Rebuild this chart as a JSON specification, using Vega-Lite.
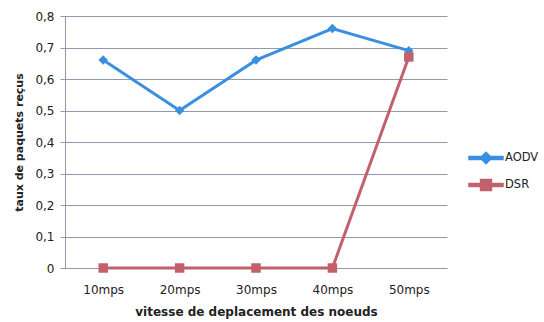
{
  "$schema": "https://vega.github.io/schema/vega-lite/v6.json",
  "autosize": "none",
  "width": 382,
  "height": 252,
  "padding": {"left": 65, "top": 16, "right": 97, "bottom": 54},
  "background": "white",
  "data": {
    "values": [
      {"speed": "10mps", "protocol": "AODV", "taux": 0.66},
      {"speed": "20mps", "protocol": "AODV", "taux": 0.5},
      {"speed": "30mps", "protocol": "AODV", "taux": 0.66},
      {"speed": "40mps", "protocol": "AODV", "taux": 0.76},
      {"speed": "50mps", "protocol": "AODV", "taux": 0.69},
      {"speed": "10mps", "protocol": "DSR", "taux": 0},
      {"speed": "20mps", "protocol": "DSR", "taux": 0},
      {"speed": "30mps", "protocol": "DSR", "taux": 0},
      {"speed": "40mps", "protocol": "DSR", "taux": 0},
      {"speed": "50mps", "protocol": "DSR", "taux": 0.67}
    ]
  },
  "config": {
    "view": {"stroke": null},
    "font": "DejaVu Sans",
    "axis": {"labelFont": "DejaVu Sans", "titleFont": "DejaVu Sans", "labelColor": "#222", "titleColor": "#222"}
  },
  "encoding": {
    "x": {
      "field": "speed", "type": "ordinal",
      "scale": {"type": "point", "padding": 0.5},
      "axis": {"title": "vitesse  de deplacement des noeuds", "labelAngle": 0, "labelFontSize": 12, "titleFontSize": 12, "titleFontWeight": "bold", "labelPadding": 16, "titlePadding": 11, "domain": false, "ticks": false, "grid": false}
    },
    "y": {
      "field": "taux", "type": "quantitative",
      "scale": {"domain": [0, 0.8]},
      "axis": {"title": "taux de paquets reçus", "values": [0, 0.1, 0.2, 0.3, 0.4, 0.5, 0.6, 0.7, 0.8], "labelExpr": "datum.value == 0 ? '0' : replace(format(datum.value, '.1f'), '.', ',')", "labelFontSize": 12, "titleFontSize": 11, "titleFontWeight": "bold", "labelPadding": 6, "titlePadding": 10, "gridColor": "#8f9ab0", "gridWidth": 1, "domainColor": "#8f9ab0", "tickColor": "#8f9ab0", "tickSize": 5}
    },
    "color": {
      "field": "protocol", "type": "nominal",
      "scale": {"domain": ["AODV", "DSR"], "range": ["#3b8fe0", "#c2606c"]},
      "legend": {
        "title": null, "orient": "none", "legendX": 403, "legendY": 124,
        "labelFontSize": 11.5, "symbolSize": 1156, "rowPadding": -8, "labelOffset": 1, "labelColor": "#222"
      }
    }
  },
  "layer": [
    {"mark": {"type": "line", "strokeWidth": 3}},
    {
      "transform": [{"filter": "datum.protocol == 'AODV'"}],
      "mark": {"type": "point", "shape": "diamond", "filled": true, "size": 90, "opacity": 1}
    },
    {
      "transform": [{"filter": "datum.protocol == 'DSR'"}],
      "mark": {"type": "point", "shape": "square", "filled": true, "size": 90, "opacity": 1}
    },
    {
      "mark": {"type": "point", "filled": true, "size": 0},
      "encoding": {
        "shape": {
          "field": "protocol", "type": "nominal",
          "scale": {"domain": ["AODV", "DSR"], "range": ["M-1,-0.09H-0.25L0,-0.34L0.25,-0.09H1V0.09H0.25L0,0.34L-0.25,0.09H-1Z", "M-1,-0.09H-0.32V-0.32H0.32V-0.09H1V0.09H0.32V0.32H-0.32V0.09H-1Z"]}
        }
      }
    }
  ]
}
